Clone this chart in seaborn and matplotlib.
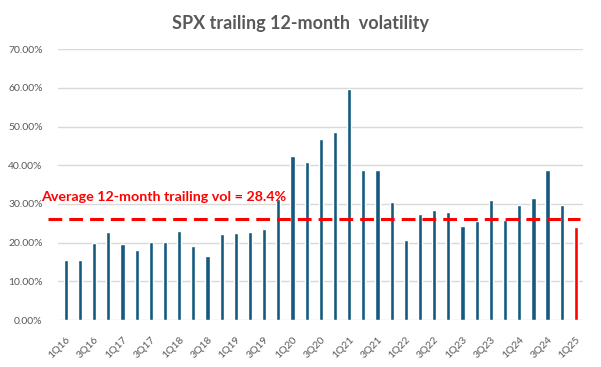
import matplotlib
matplotlib.use("Agg")
import matplotlib.pyplot as plt
from matplotlib.ticker import PercentFormatter, MultipleLocator
import seaborn as sns
import pandas as pd

quarters = [f"{q}Q{y}" for y in range(16, 26) for q in range(1, 5)][:37]
vol = [15.6, 15.6, 19.9, 22.8, 19.7, 18.0, 20.1, 20.1, 23.0, 19.1, 16.6, 22.2,
       22.5, 22.7, 23.4, 31.4, 42.3, 40.8, 46.9, 48.5, 59.8, 38.7, 38.9, 30.4,
       20.8, 27.5, 28.5, 27.8, 24.2, 25.6, 31.1, 25.9, 29.6, 31.5, 38.7, 29.6, 24.1]
avg_line = 26.2
avg_text = "Average 12-month trailing vol = 28.4%"
title = "SPX trailing 12-month  volatility"

BLUE = "#155A7E"
RED = "#FF0000"
GRAY = "#595959"

df = pd.DataFrame({"quarter": quarters, "vol": vol})
palette = {q: (RED if i == len(quarters) - 1 else BLUE) for i, q in enumerate(quarters)}

sns.set_style("white")
plt.rcParams["font.family"] = ["Lato", "DejaVu Sans"]

fig = plt.figure(figsize=(6.01, 3.67), dpi=100)
ax = fig.add_axes([0.0965, 0.128, 0.8735, 0.738])

sns.barplot(data=df, x="quarter", y="vol", hue="quarter", palette=palette,
            legend=False, width=0.3, ax=ax, zorder=2, saturation=1)

ax.set_ylim(0, 70)
ax.set_xlim(-0.55, len(quarters) - 0.5)
ax.yaxis.set_major_locator(MultipleLocator(10))
ax.yaxis.set_major_formatter(PercentFormatter(decimals=2))
ax.grid(axis="y", color="#D9D9D9", linewidth=1, zorder=0)
for s in ax.spines.values():
    s.set_visible(False)
ax.set_xlabel("")
ax.set_ylabel("")

ax.set_xticks(range(0, len(quarters), 2))
ax.set_xticklabels(quarters[::2], rotation=45, ha="right", rotation_mode="anchor",
                   fontsize=7.5, color=GRAY)
ax.tick_params(axis="y", labelsize=7.5, labelcolor=GRAY, length=0, pad=11)
ax.tick_params(axis="x", length=0, pad=11)

ax.axhline(avg_line, xmin=-0.019, xmax=0.995, color=RED, linestyle=(0, (4.5, 2.3)),
           linewidth=2.2, clip_on=False, zorder=3)
ax.text(-1.75, 31.9, avg_text, color=RED, fontsize=10.3, fontweight="bold",
        va="center", ha="left", zorder=4)

fig.suptitle(title, x=0.5, y=0.96, fontsize=13, fontweight="bold", color=GRAY)

fig.savefig("out.png", dpi=100)
